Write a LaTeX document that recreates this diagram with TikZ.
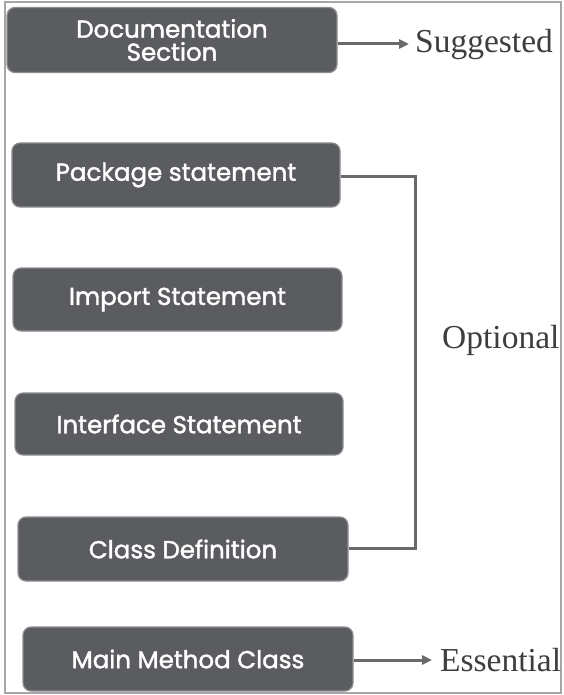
\documentclass[tikz,border=0pt]{standalone}
\usepackage{fontspec}
\setmainfont{Liberation Serif}
\newfontfamily\boxfont{Poppins}[FakeBold=1.6]
\usetikzlibrary{arrows.meta}
\definecolor{boxfill}{HTML}{5A5C60}
\definecolor{boxrim}{HTML}{8C8E92}
\definecolor{linegray}{HTML}{6A6A6C}
\definecolor{labelgray}{HTML}{3E3E40}
\tikzset{
  blk/.style={draw=boxrim, line width=1.2pt, fill=boxfill, rounded corners=8pt,
    text=white, font=\boxfont\fontsize{24.5}{26}\selectfont, align=center, inner sep=0pt},
  conn/.style={draw=linegray, line width=3pt},
  arr/.style={conn, -{Triangle[length=10pt,width=9pt]}},
  lbl/.style={text=labelgray, font=\fontsize{33.5}{36}\selectfont, inner sep=0pt, anchor=west}
}
\begin{document}
\begin{tikzpicture}[x=1pt,y=-1pt]
\useasboundingbox (0,0) rectangle (563,695);
\fill[white] (0,0) rectangle (563,695);
\draw[gray!70, line width=1.2pt] (5,2) rectangle (561,693);
% boxes
\node[blk, minimum width=330pt, minimum height=65pt] (doc) at (172,40) {Documentation\\[-3pt]Section};
\node[blk, minimum width=328pt, minimum height=64pt] (pkg) at (176,175) {Package statement};
\node[blk, minimum width=329pt, minimum height=63pt] (imp) at (177.5,299.5) {Import Statement};
\node[blk, minimum width=328pt, minimum height=62pt] (ifc) at (179,424) {Interface Statement};
\node[blk, minimum width=330pt, minimum height=64pt] (cls) at (183,549) {Class Definition};
\node[blk, minimum width=330pt, minimum height=64pt] (mmc) at (188,659) {Main Method Class};
% labels
\node[lbl] (sug) at (415,44) {Suggested};
\node[lbl] (opt) at (442,340) {Optional};
\node[lbl] (ess) at (440,660) {Essential};
% connectors
\coordinate (bt) at (415,176);
\coordinate (bb) at (415,548);
\draw[arr] (doc.east |- 0,44) -- ([xshift=-6pt]sug.west);
\draw[conn] (pkg.east |- bt) -- (bt) -- (bb) -- (cls.east |- bb);
\draw[arr] (mmc.east |- 0,660) -- ([xshift=-8pt]ess.west);
\end{tikzpicture}
\end{document}
